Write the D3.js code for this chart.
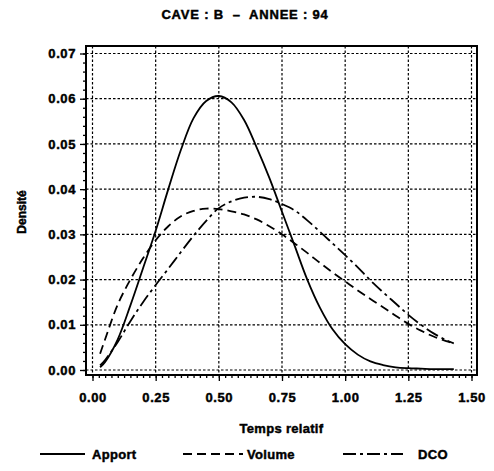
<!DOCTYPE html>
<html>
<head>
<meta charset="utf-8">
<script src="https://cdn.jsdelivr.net/npm/d3@7"></script>
<style>
  body { margin: 0; background: #fff; }
  text { font-family: "Liberation Sans", Arial, sans-serif; font-weight: bold; fill: #000; stroke: #000; stroke-width: 0.45px; }
</style>
</head>
<body>
<div id="chart"></div>
<script>
// relative time values (x)
const temps = [0.03, 0.05, 0.10, 0.15, 0.20, 0.25, 0.30, 0.35, 0.40, 0.45, 0.50, 0.55, 0.60, 0.65, 0.70,
  0.75, 0.80, 0.85, 0.90, 0.95, 1.00, 1.05, 1.10, 1.15, 1.20, 1.25, 1.30, 1.35, 1.40, 1.43];

// density per series
const apport = [0.0006, 0.0018, 0.0068, 0.0143, 0.0225, 0.0308, 0.0400, 0.0487, 0.0557, 0.0595, 0.0606, 0.0592, 0.0553, 0.0492, 0.0425,
  0.0350, 0.0275, 0.0200, 0.0138, 0.0090, 0.0057, 0.0034, 0.0019, 0.0011, 0.0006, 0.0004, 0.0003, 0.0002, 0.0002, 0.0002];
const volume = [0.0036, 0.0068, 0.0145, 0.0200, 0.0247, 0.0287, 0.0318, 0.0340, 0.0352, 0.0357, 0.0356, 0.0351, 0.0344, 0.0333, 0.0318,
  0.0300, 0.0280, 0.0259, 0.0237, 0.0216, 0.0196, 0.0176, 0.0157, 0.0139, 0.0120, 0.0102, 0.0087, 0.0074, 0.0064, 0.0059];
const dco = [0.0010, 0.0022, 0.0062, 0.0108, 0.0150, 0.0188, 0.0224, 0.0261, 0.0297, 0.0330, 0.0358, 0.0373, 0.0381, 0.0383, 0.0378,
  0.0367, 0.0353, 0.0331, 0.0306, 0.0280, 0.0254, 0.0227, 0.0198, 0.0172, 0.0147, 0.0122, 0.0100, 0.0081, 0.0066, 0.0059];

const xTicks = [0.00, 0.25, 0.50, 0.75, 1.00, 1.25, 1.50];
const yTicks = [0.00, 0.01, 0.02, 0.03, 0.04, 0.05, 0.06, 0.07];
const seriesNames = ["Apport", "Volume", "DCO"];
const dashes = [null, "9,5", "13,4,3,4"];

const width = 494, height = 471;
const frame = { left: 86, right: 477, top: 46, bottom: 375 };

const svg = d3.select("#chart").append("svg")
  .attr("width", width)
  .attr("height", height);

const x = d3.scaleLinear().domain([0, 1.5]).range([92.5, 471.5]);
const y = d3.scaleLinear().domain([0, 0.07]).range([370, 53.5]);

// grid lines (dotted)
svg.append("g").selectAll("line")
  .data(yTicks)
  .enter().append("line")
  .attr("x1", frame.left).attr("x2", frame.right)
  .attr("y1", d => y(d)).attr("y2", d => y(d))
  .attr("stroke", "#000").attr("stroke-width", 1.2)
  .attr("stroke-dasharray", "2.5,2");
svg.append("g").selectAll("line")
  .data(xTicks)
  .enter().append("line")
  .attr("y1", frame.top).attr("y2", frame.bottom)
  .attr("x1", d => x(d)).attr("x2", d => x(d))
  .attr("stroke", "#000").attr("stroke-width", 1.2)
  .attr("stroke-dasharray", "2.5,2");

// frame
svg.append("rect")
  .attr("x", frame.left).attr("y", frame.top)
  .attr("width", frame.right - frame.left)
  .attr("height", frame.bottom - frame.top)
  .attr("fill", "none").attr("stroke", "#000").attr("stroke-width", 2);

// axes with minor ticks
const yMinor = d3.range(0, 0.0701, 0.002);
const xMinor = d3.range(0, 1.501, 0.025);

const yAxisG = svg.append("g").attr("transform", `translate(${frame.left},0)`);
yAxisG.call(d3.axisLeft(y).tickValues(yMinor).tickSize(3).tickFormat(""));
yAxisG.call(g => g.select(".domain").remove());
const yMajor = svg.append("g").attr("transform", `translate(${frame.left},0)`)
  .call(d3.axisLeft(y).tickValues(yTicks).tickSize(6).tickPadding(4).tickFormat(d3.format(".2f")));
yMajor.select(".domain").remove();

const xAxisG = svg.append("g").attr("transform", `translate(0,${frame.bottom})`);
xAxisG.call(d3.axisBottom(x).tickValues(xMinor).tickSize(3).tickFormat(""));
xAxisG.call(g => g.select(".domain").remove());
const xMajor = svg.append("g").attr("transform", `translate(0,${frame.bottom})`)
  .call(d3.axisBottom(x).tickValues(xTicks).tickSize(6).tickPadding(12).tickFormat(d3.format(".2f")));
xMajor.select(".domain").remove();

svg.selectAll(".tick line").attr("stroke", "#000").attr("stroke-width", 1.3);
svg.selectAll(".tick text")
  .style("font-family", '"Liberation Sans", Arial, sans-serif')
  .style("font-weight", "bold")
  .style("font-size", "13px")
  .style("letter-spacing", "0.6px")
  .style("stroke", "#000")
  .style("stroke-width", "0.45px");

// curves
const data = [apport, volume, dco];
const line = d3.line()
  .x((d, i) => x(temps[i]))
  .y(d => y(d))
  .curve(d3.curveCatmullRom);

svg.append("g").selectAll("path")
  .data(data)
  .enter().append("path")
  .attr("d", d => line(d))
  .attr("fill", "none")
  .attr("stroke", "#000")
  .attr("stroke-width", 1.8)
  .attr("stroke-dasharray", (d, i) => dashes[i]);

// titles
svg.append("text")
  .attr("x", 245).attr("y", 19)
  .attr("text-anchor", "middle")
  .style("font-size", "13px")
  .style("letter-spacing", "0.8px")
  .attr("xml:space", "preserve")
  .text("CAVE : B  \u2013  ANNEE : 94");

svg.append("text")
  .attr("x", (frame.left + frame.right) / 2).attr("y", 433)
  .attr("text-anchor", "middle")
  .style("font-size", "13px")
  .style("letter-spacing", "0.3px")
  .text("Temps relatif");

svg.append("text")
  .attr("transform", "translate(26,212) rotate(-90)")
  .attr("text-anchor", "middle")
  .style("font-size", "12px")
  .text("Densité");

// legend
const legendX = [40, 183, 343];
const legend = svg.append("g").selectAll("g")
  .data(seriesNames)
  .enter().append("g")
  .attr("transform", (d, i) => `translate(${legendX[i]},454)`);
legend.append("line")
  .attr("x1", 0).attr("x2", (d, i) => i === 0 ? 45 : 60)
  .attr("y1", 0).attr("y2", 0)
  .attr("stroke", "#000").attr("stroke-width", 1.8)
  .attr("stroke-dasharray", (d, i) => dashes[i]);
legend.append("text")
  .attr("x", (d, i) => i === 0 ? 52 : (i === 1 ? 64 : 75))
  .attr("y", 5)
  .style("font-size", "13px")
  .style("letter-spacing", "0.3px")
  .text(d => d);
</script>
</body>
</html>
